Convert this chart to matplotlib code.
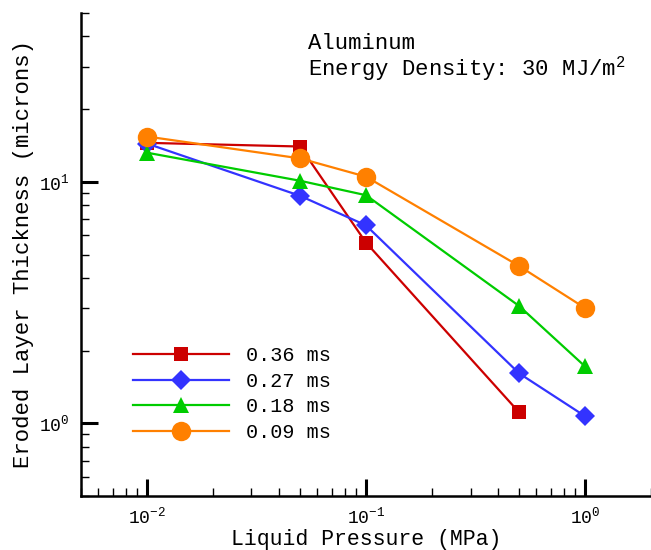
import matplotlib
matplotlib.use('Agg')
import matplotlib.pyplot as plt
from matplotlib.ticker import LogLocator, NullFormatter
import numpy as np

plt.rcParams['font.family'] = ['Liberation Mono', 'DejaVu Sans']
plt.rcParams['mathtext.fontset'] = 'custom'
plt.rcParams['mathtext.rm'] = 'Liberation Mono'
plt.rcParams['mathtext.it'] = 'Liberation Mono'
plt.rcParams['axes.unicode_minus'] = False

# data
pressure = [0.01, 0.05, 0.1, 0.5, 1.0]
labels = ['0.36 ms', '0.27 ms', '0.18 ms', '0.09 ms']
thick_036 = [14.5, 14.0, 5.6, 1.11]
thick_027 = [14.4, 8.75, 6.6, 1.61, 1.07]
thick_018 = [13.2, 10.1, 8.8, 3.06, 1.72]
thick_009 = [15.4, 12.5, 10.5, 4.48, 3.0]

series = [
    (pressure[:4], thick_036, '#cc0000', 's', 10),
    (pressure, thick_027, '#3333ff', 'D', 10),
    (pressure, thick_018, '#00cc00', '^', 11),
    (pressure, thick_009, '#ff8000', 'o', 14),
]

fig = plt.figure(figsize=(6.51, 5.5), dpi=100)
ax = fig.add_axes([81 / 651, 1 - 496 / 550, 570 / 651, 483 / 550])

for (x, y, col, mk, ms), lab in zip(series, labels):
    ax.plot(x, y, color=col, marker=mk, markersize=ms, linewidth=1.6,
            markeredgewidth=0, label=lab)

ax.set_xscale('log')
ax.set_yscale('log')
ax.set_xlim(0.005, 2)
ax.set_ylim(0.5, 50)

for side in ['top', 'right']:
    ax.spines[side].set_visible(False)
for side in ['left', 'bottom']:
    ax.spines[side].set_linewidth(1.8)

ax.xaxis.set_minor_locator(LogLocator(base=10, subs=np.arange(2, 10)))
ax.yaxis.set_minor_locator(LogLocator(base=10, subs=np.arange(2, 10)))
ax.xaxis.set_minor_formatter(NullFormatter())
ax.yaxis.set_minor_formatter(NullFormatter())
ax.tick_params(which='major', direction='in', length=12, width=2.2,
               labelsize=13)
ax.tick_params(axis='x', which='major', pad=8)
ax.tick_params(axis='y', which='major', pad=8)
ax.tick_params(which='minor', direction='in', length=6, width=1.0)

ax.set_xlabel('Liquid Pressure (MPa)', fontsize=15.5, labelpad=1)
ax.set_ylabel('Eroded Layer Thickness (microns)', fontsize=16, labelpad=4)

ax.text(0.398, 0.958, 'Aluminum\n' + r'Energy Density: 30 MJ/m$^{2}$',
        transform=ax.transAxes, fontsize=16, va='top', ha='left',
        linespacing=1.0)

ax.legend(loc='upper left', bbox_to_anchor=(0.091, 0.31), frameon=False,
          fontsize=14.5, handlelength=4.75, handletextpad=0.85,
          labelspacing=0.32, borderpad=0, borderaxespad=0)

fig.savefig('out.png', dpi=100)
